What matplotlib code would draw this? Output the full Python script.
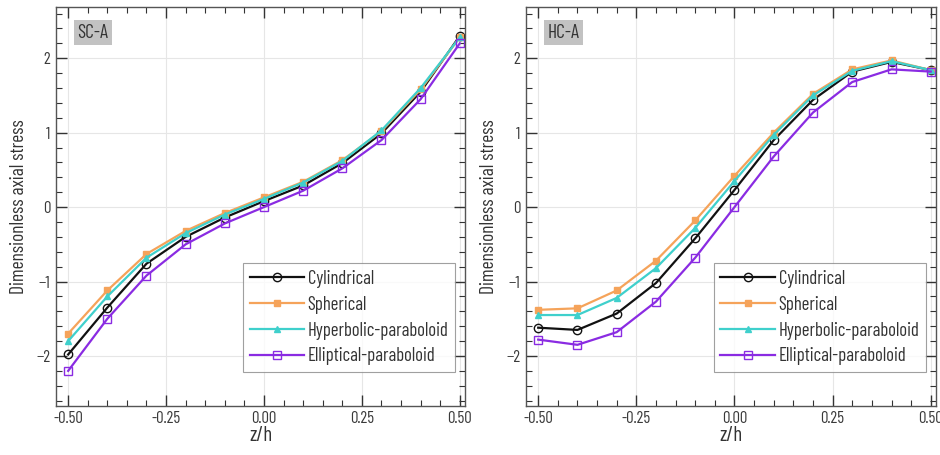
import matplotlib
matplotlib.use("Agg")
import matplotlib.pyplot as plt
from matplotlib.ticker import MultipleLocator

plt.rcParams['font.family'] = ['Barlow Condensed', 'Barlow Semi Condensed',
                               'IBM Plex Sans Condensed', 'DejaVu Sans']

z = [-0.5, -0.4, -0.3, -0.2, -0.1, 0.0, 0.1, 0.2, 0.3, 0.4, 0.5]
names = ["Cylindrical", "Spherical", "Hyperbolic-paraboloid", "Elliptical-paraboloid"]

# SC-A
sc_cyl = [-1.98, -1.35, -0.76, -0.40, -0.14, 0.08, 0.29, 0.59, 0.99, 1.55, 2.30]
sc_sph = [-1.70, -1.12, -0.63, -0.32, -0.08, 0.13, 0.34, 0.63, 1.02, 1.58, 2.28]
sc_hyp = [-1.80, -1.20, -0.68, -0.35, -0.10, 0.11, 0.33, 0.62, 1.03, 1.60, 2.28]
sc_ell = [-2.20, -1.50, -0.92, -0.50, -0.22, 0.00, 0.22, 0.52, 0.90, 1.45, 2.20]

# HC-A
hc_cyl = [-1.62, -1.65, -1.43, -1.02, -0.42, 0.23, 0.90, 1.44, 1.82, 1.95, 1.84]
hc_sph = [-1.38, -1.36, -1.12, -0.72, -0.18, 0.42, 1.00, 1.52, 1.85, 1.97, 1.84]
hc_hyp = [-1.45, -1.45, -1.22, -0.82, -0.28, 0.35, 0.97, 1.50, 1.83, 1.96, 1.84]
hc_ell = [-1.78, -1.85, -1.68, -1.27, -0.68, 0.00, 0.68, 1.27, 1.68, 1.85, 1.82]

colors = ["#111111", "#f5a35a", "#3fd0cc", "#8a2be2"]
markers = ["o", "s", "^", "s"]
mfills = ["none", "full", "full", "none"]
msizes = [6, 4, 4, 6]

fig = plt.figure(figsize=(9.4, 4.55), dpi=100)
ax1 = fig.add_axes([0.0596, 0.108, 0.435, 0.877])
ax2 = fig.add_axes([0.5596, 0.108, 0.436, 0.877])

panels = [(ax1, "SC-A", [sc_cyl, sc_sph, sc_hyp, sc_ell]),
          (ax2, "HC-A", [hc_cyl, hc_sph, hc_hyp, hc_ell])]

for ax, tag, series in panels:
    for i in range(4):
        ax.plot(z, series[i], color=colors[i], lw=1.6, marker=markers[i],
                markersize=msizes[i], fillstyle=mfills[i], mew=1.0,
                label=names[i])
    ax.set_xlim(-0.531, 0.513)
    ax.set_ylim(-2.67, 2.69)
    ax.xaxis.set_minor_locator(MultipleLocator(0.05))
    ax.yaxis.set_major_locator(MultipleLocator(1))
    ax.yaxis.set_minor_locator(MultipleLocator(0.2))
    ax.set_xticks([-0.5, -0.25, 0, 0.25, 0.5])
    ax.set_xticklabels(["-0.50", "-0.25", "0.00", "0.25", "0.50"])
    ax.tick_params(which="both", direction="in", top=True, right=True,
                   labelsize=12, color="#333333", labelcolor="#3a3a3a")
    ax.tick_params(which="major", length=8, width=1, pad=4)
    ax.tick_params(which="minor", length=4.5, width=0.8)
    ax.grid(True, which="major", color="#e6e6e6", lw=0.8)
    ax.set_axisbelow(True)
    for s in ax.spines.values():
        s.set_color("#555555")
        s.set_linewidth(1.0)
    ax.set_xlabel("z/h", fontsize=15, labelpad=0, color="#333333")
    ax.set_ylabel("Dimensionless axial stress", fontsize=14, labelpad=6,
                  color="#333333")
    ax.text(0.052, 0.935, tag, transform=ax.transAxes, fontsize=14,
            color="#333333", va="center", ha="left",
            bbox=dict(facecolor="#c2c2c2", edgecolor="none", pad=2.5))
    leg = ax.legend(loc="lower right", bbox_to_anchor=(0.976, 0.085),
                    fontsize=13.5, frameon=True, fancybox=False,
                    edgecolor="#888888", handlelength=2.9, handletextpad=0.2,
                    borderpad=0.35, labelspacing=0.42, borderaxespad=0)
    leg.get_frame().set_linewidth(0.8)
    for t in leg.get_texts():
        t.set_color("#333333")

fig.savefig("out.png", dpi=100)
